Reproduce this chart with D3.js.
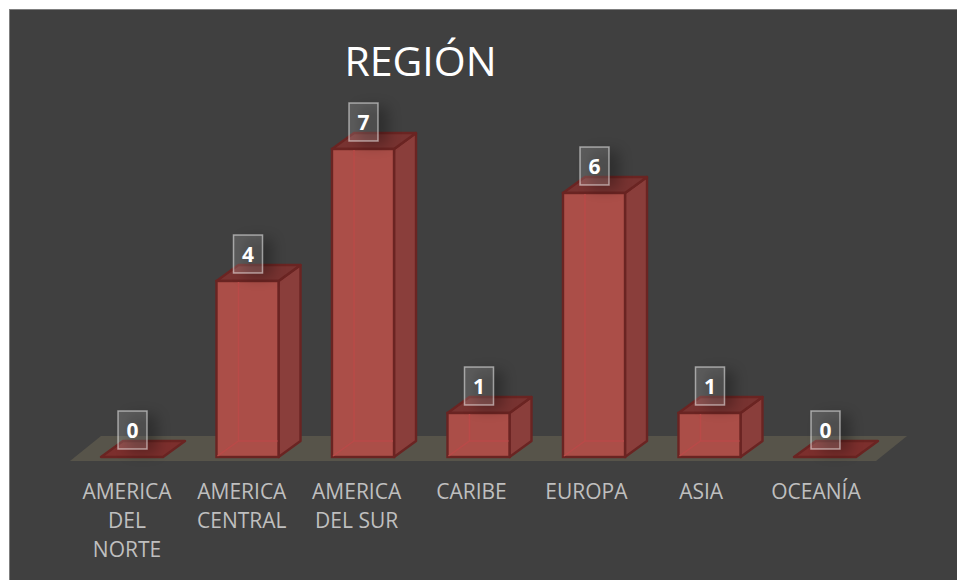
<!DOCTYPE html>
<html><head><meta charset="utf-8">
<script src="https://cdn.jsdelivr.net/npm/d3@7"></script>
<style>html,body{margin:0;padding:0;background:#fff}svg{display:block}</style>
</head><body><svg id="c" width="957" height="580"></svg>
<script>
const categories = ["AMERICA DEL NORTE","AMERICA CENTRAL","AMERICA DEL SUR","CARIBE","EUROPA","ASIA","OCEANÍA"];
const labelLines = [["AMERICA","DEL","NORTE"],["AMERICA","CENTRAL"],["AMERICA","DEL SUR"],["CARIBE"],["EUROPA"],["ASIA"],["OCEANÍA"]];
const values = [0,4,7,1,6,1,0];
const title = "REGIÓN";
const font = "'Open Sans','Noto Sans',sans-serif";

const svg = d3.select("#c");
const defs = svg.append("defs");
defs.append("filter").attr("id","blur").attr("x","-60%").attr("y","-60%").attr("width","220%").attr("height","220%")
  .append("feGaussianBlur").attr("stdDeviation",7);

// depth projection of the 3-D box
const dx = 22, dy = -16;
const x = d3.scaleBand().domain(categories).range([101,856]).paddingInner(0.463).paddingOuter(0);
const y = d3.scaleLinear().domain([0,7]).range([457,149]);
const labelX = d3.scalePoint().domain(categories).range([127,816]);
const poly = pts => d3.line()(pts)+"Z";

svg.append("rect").attr("x",9.5).attr("y",9.5).attr("width",960).attr("height",590)
  .attr("fill","#404040").attr("stroke","#7f7f7f").attr("stroke-width",1);

svg.append("text").attr("x",420.5).attr("y",76).attr("text-anchor","middle")
  .attr("font-family",font).attr("font-size",41).attr("fill","#fff").text(title);

// floor
const f0 = y(0)+4, f1 = y(0)-21;
svg.append("path").attr("d",poly([[70,f0],[876,f0],[907,f1],[101,f1]])).attr("fill","#57544a");

const g = svg.append("g").selectAll("g").data(categories).join("g");
const stroke = "#6a2422";
const sw = 2.4;
g.each(function(c,i){
  const s = d3.select(this), x0 = x(c), w = x.bandwidth(), x1 = x0+w, b = y(0), t = y(values[i]);
  if (values[i] === 0) {
    s.append("path").attr("d",poly([[x0,b],[x1,b],[x1+dx,b+dy],[x0+dx,b+dy]]))
      .attr("fill","#7c2f2d").attr("stroke",stroke).attr("stroke-width",sw).attr("stroke-linejoin","round");
    return;
  }
  s.append("path").attr("d",poly([[x1,b],[x1+dx,b+dy],[x1+dx,t+dy],[x1,t]]))
    .attr("fill","#8a3e3b").attr("stroke",stroke).attr("stroke-width",sw).attr("stroke-linejoin","round");
  s.append("path").attr("d",poly([[x0,t],[x1,t],[x1+dx,t+dy],[x0+dx,t+dy]]))
    .attr("fill","#783331").attr("stroke",stroke).attr("stroke-width",sw).attr("stroke-linejoin","round");
  s.append("rect").attr("x",x0).attr("y",t).attr("width",w).attr("height",b-t)
    .attr("fill","#ab4e48").attr("stroke",stroke).attr("stroke-width",sw);
  // hidden back edges seen through the translucent box
  s.append("path").attr("d",`M${x0+dx},${t+1}V${b+dy}M${x0+1},${b-1}L${x0+dx},${b+dy}H${x1-1}`)
    .attr("fill","none").attr("stroke","#b94a48").attr("stroke-width",1.5);
});

// data labels with soft shadow
const bw = 29, bh = 38, gap = 8;
const lab = svg.append("g").selectAll("g").data(categories).join("g")
  .attr("transform",(c,i)=>`translate(${x(c)+x.bandwidth()/2+0.5},${y(values[i])-gap-bh})`);
lab.append("rect").attr("x",-bw/2+10).attr("y",4).attr("width",bw).attr("height",bh)
  .attr("fill","#000").attr("opacity",0.28).attr("filter","url(#blur)");
lab.append("rect").attr("x",-bw/2).attr("y",0).attr("width",bw).attr("height",bh)
  .attr("fill","rgba(255,255,255,0.15)").attr("stroke","rgba(255,255,255,0.5)").attr("stroke-width",1.5);
lab.append("text").attr("text-anchor","middle").attr("y",27).attr("font-family",font)
  .attr("font-size",21).attr("font-weight",700).attr("fill","#fff").text((c,i)=>values[i]);

// category labels
const ticks = svg.append("g").selectAll("text").data(categories).join("text")
  .attr("text-anchor","middle").attr("font-family",font).attr("font-size",21).attr("fill","#bfbfbf");
ticks.each(function(c,i){
  d3.select(this).selectAll("tspan").data(labelLines[i]).join("tspan")
    .attr("x",labelX(c)).attr("y",(l,j)=>499+j*29).text(l=>l);
});
</script></body></html>
